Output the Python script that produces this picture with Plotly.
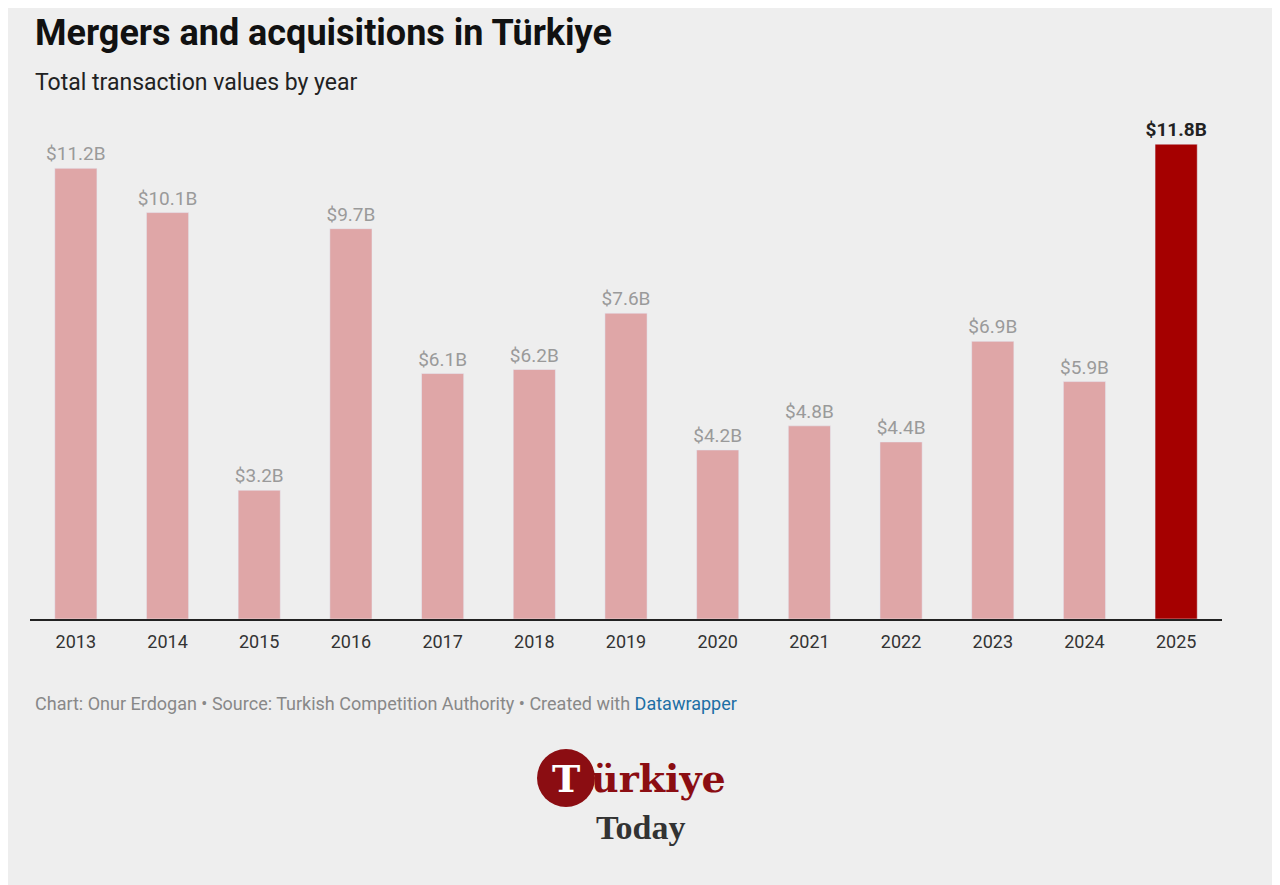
import plotly.graph_objects as go

years = ["2013","2014","2015","2016","2017","2018","2019","2020","2021","2022","2023","2024","2025"]
values = [11.2, 10.1, 3.2, 9.7, 6.1, 6.2, 7.6, 4.2, 4.8, 4.4, 6.9, 5.9, 11.8]
labels = ["$11.2B","$10.1B","$3.2B","$9.7B","$6.1B","$6.2B","$7.6B","$4.2B","$4.8B","$4.4B","$6.9B","$5.9B","$11.8B"]

colors = ["#dfa6a7"] * (len(years) - 1) + ["#a50000"]
texts = [l if i < len(labels) - 1 else "<b>" + l + "</b>" for i, l in enumerate(labels)]
tcolors = ["#9a9a9a"] * (len(years) - 1) + ["#222222"]

OFF = 8  # page body margin
W, H = 1280 - OFF, 885 - OFF
L, R, T, B = 30 - OFF, 58, 116 - OFF, 266
pw, ph = W - L - R, H - T - B
def px(x): return (x - OFF - L) / pw
def py(y): return (H - B - (y - OFF)) / ph

fig = go.Figure(go.Bar(
    x=years, y=values, marker_color=colors, width=0.46,
    text=texts, textposition="outside", cliponaxis=False, constraintext="none",
    textfont=dict(color=tcolors, size=19, family="Roboto"),
))

fig.update_layout(
    width=W, height=H, margin=dict(l=L, r=R, t=T, b=B),
    paper_bgcolor="#eeeeee", plot_bgcolor="rgba(0,0,0,0)",
    showlegend=False, bargap=0.54,
    font=dict(family="Roboto", color="#333"),
    xaxis=dict(showgrid=False, tickfont=dict(size=18, color="#333"), showline=True,
               linecolor="#222", linewidth=1.5, ticks="outside", ticklen=6, tickcolor="rgba(0,0,0,0)"),
    yaxis=dict(range=[0, 12.5], visible=False),
    annotations=[
        dict(text="<b>Mergers and acquisitions in Türkiye</b>", x=px(33), y=py(33), xref="paper", yref="paper",
             xanchor="left", yanchor="middle", showarrow=False, font=dict(size=36, color="#111")),
        dict(text="Total transaction values by year", x=px(33), y=py(83), xref="paper", yref="paper",
             xanchor="left", yanchor="middle", showarrow=False, font=dict(size=23, color="#222")),
        dict(text="Chart: Onur Erdogan • Source: Turkish Competition Authority • Created with <span style='color:#1d6fa5'>Datawrapper</span>",
             x=px(33), y=py(703), xref="paper", yref="paper", xanchor="left", yanchor="middle",
             showarrow=False, font=dict(size=18, color="#888")),
        dict(text="<b>T</b>", x=px(566), y=py(778), xref="paper", yref="paper", xanchor="center",
             yanchor="middle", showarrow=False, font=dict(size=38, color="#ffffff", family="DejaVu Serif")),
        dict(text="<b>ürkiye</b>", x=px(589), y=py(778), xref="paper", yref="paper", xanchor="left",
             yanchor="middle", showarrow=False, font=dict(size=38, color="#8b0d12", family="DejaVu Serif")),
        dict(text="<b>Today</b>", x=px(640), y=py(828), xref="paper", yref="paper", xanchor="center",
             yanchor="middle", showarrow=False, font=dict(size=34, color="#333", family="Liberation Serif")),
    ],
    shapes=[dict(type="circle", xref="paper", yref="paper", x0=px(537), x1=px(595), y0=py(807), y1=py(749),
                 fillcolor="#8b0d12", line=dict(width=0), layer="below")],
)
fig.write_html("out.html")
